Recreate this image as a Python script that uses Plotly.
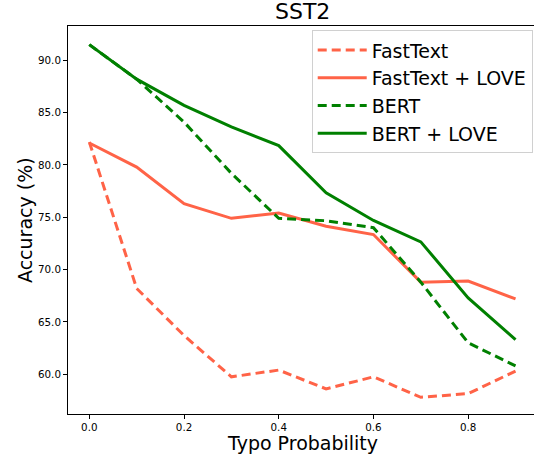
import plotly.graph_objects as go

typo_prob = [0.0, 0.1, 0.2, 0.3, 0.4, 0.5, 0.6, 0.7, 0.8, 0.9]
fasttext = [82.2, 68.2, 63.7, 59.75, 60.4, 58.6, 59.75, 57.8, 58.15, 60.3]
fasttext_love = [82.1, 79.8, 76.3, 74.9, 75.4, 74.15, 73.35, 68.8, 68.9, 67.2]
bert = [91.5, 88.2, 84.1, 79.2, 74.9, 74.67, 74.0, 68.8, 63.0, 60.8]
bert_love = [91.5, 88.2, 85.7, 83.65, 81.85, 77.35, 74.7, 72.65, 67.3, 63.3]

series_names = ["FastText", "FastText + LOVE", "BERT", "BERT + LOVE"]
series_vals = [fasttext, fasttext_love, bert, bert_love]
series_colors = ["#FF6347", "#FF6347", "#008000", "#008000"]
series_dash = ["9px,5px", "solid", "9px,5px", "solid"]

fig = go.Figure()
for name, vals, col, dash in zip(series_names, series_vals, series_colors, series_dash):
    fig.add_trace(go.Scatter(x=typo_prob, y=vals, mode="lines", name=name,
                             line=dict(color=col, width=3, dash=dash)))

FONT = "DejaVu Sans"
fig.update_layout(
    width=534, height=457,
    margin=dict(l=68, r=0, t=26, b=43, autoexpand=False),
    plot_bgcolor="white", paper_bgcolor="white",
    font=dict(family=FONT, color="black"),
    showlegend=True,
    legend=dict(x=0.523, y=0.989, xanchor="left", yanchor="top",
                bgcolor="white", bordercolor="#d0d0d0", borderwidth=1,
                itemwidth=49,
                font=dict(size=19, family=FONT), tracegroupgap=0),
    xaxis=dict(range=[-0.045, 0.939], tickvals=[0.0, 0.2, 0.4, 0.6, 0.8],
               ticktext=["0.0", "0.2", "0.4", "0.6", "0.8"], automargin=False,
               showline=True, linecolor="black", linewidth=1, mirror=True,
               ticks="outside", ticklen=4, tickcolor="black",
               showgrid=False, zeroline=False, tickfont=dict(size=10.3)),
    yaxis=dict(range=[56.2, 93.28], tickvals=[60, 65, 70, 75, 80, 85, 90],
               tickformat=".1f", automargin=False,
               showline=True, linecolor="black", linewidth=1, mirror=False,
               ticks="outside", ticklen=4, tickcolor="black",
               showgrid=False, zeroline=False, tickfont=dict(size=10.3)),
    annotations=[
        dict(text="SST2", xref="paper", yref="paper", x=0.503, y=1.0,
             xanchor="center", yanchor="bottom", yshift=0, showarrow=False,
             font=dict(size=22, family=FONT)),
        dict(text="Typo Probability", xref="paper", yref="paper", x=0.503, y=0,
             xanchor="center", yanchor="middle", yshift=-29, showarrow=False,
             font=dict(size=19, family=FONT)),
        dict(text="Accuracy (%)", xref="paper", yref="paper", x=0, y=0.5,
             xanchor="center", yanchor="middle", xshift=-43, textangle=-90,
             showarrow=False, font=dict(size=19, family=FONT)),
    ],
)
fig.write_html("out.html", config={"displayModeBar": False},
               post_script="document.body.style.margin='0px';document.body.style.overflow='hidden';")
